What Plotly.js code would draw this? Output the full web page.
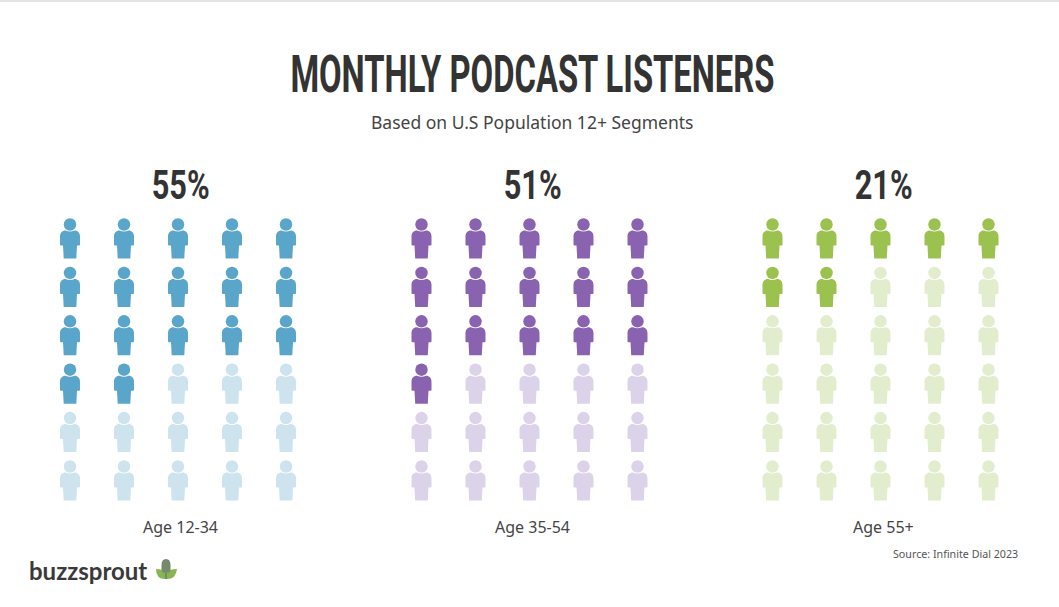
<!DOCTYPE html>
<html>
<head>
<meta charset="utf-8">
<script src="https://cdn.plot.ly/plotly-3.0.1.min.js"></script>
<style>
html, body { margin: 0; padding: 0; background: #fff; }
#chart { width: 1059px; height: 607px; }
</style>
</head>
<body>
<div id="chart"></div>
<script>
// values
var groups = ["Age 12-34", "Age 35-54", "Age 55+"];
var percents = [55, 51, 21];
var filledIcons = [17, 16, 7];
var iconColumns = [1, 2, 3, 4, 5];
var iconRows = [1, 2, 3, 4, 5, 6];
var fullColors = ["#5aa5ca", "#8a63b0", "#9bc14f"];
var paleColors = ["#cde3ee", "#dcd3ea", "#e2edcd"];

var W = 1059, H = 607;
var panelCenters = [178, 529.5, 880.5];
var colStep = 54, rowStep = 48.4, firstHead = 224.5;

// body outline in pixels relative to the head centre (y is up)
var bodyPath = "M-4.5,-6 Q0,-8 4.5,-6 C8,-6 10,-8.5 10,-12 L10,-20 Q10,-21 9,-21 L7,-21 L6.3,-34 L-6.3,-34 L-7,-21 L-9,-21 Q-10,-21 -10,-20 L-10,-12 C-10,-8.5 -8,-6 -4.5,-6 Z";

var headlineFont = "Roboto, 'Liberation Sans', sans-serif";

var traces = [];
var shapes = [];
var annotations = [];
var layout = {
    width: W,
    height: H,
    margin: {l: 0, r: 0, t: 0, b: 0},
    paper_bgcolor: "#ffffff",
    plot_bgcolor: "#ffffff",
    showlegend: false,
    hovermode: "closest",
    font: {family: "'Noto Sans', sans-serif", color: "#444444"}
};

groups.forEach(function (group, g) {
    var suffix = g === 0 ? "" : String(g + 1);
    var xName = "x" + suffix, yName = "y" + suffix;
    var left = panelCenters[g] - colStep * 2.5;
    var top = firstHead - rowStep * 0.5;

    layout["xaxis" + suffix] = {
        domain: [left / W, (left + colStep * 5) / W],
        range: [0.5, 5.5],
        visible: false,
        fixedrange: true,
        anchor: yName
    };
    layout["yaxis" + suffix] = {
        domain: [(H - (top + rowStep * 6.5)) / H, (H - top) / H],
        range: [7, 0.5],
        visible: false,
        fixedrange: true,
        anchor: xName
    };

    var fx = [], fy = [], px = [], py = [];
    iconRows.forEach(function (row, r) {
        iconColumns.forEach(function (col, c) {
            var isFull = r * iconColumns.length + c < filledIcons[g];
            (isFull ? fx : px).push(col);
            (isFull ? fy : py).push(row);
            shapes.push({
                type: "path",
                xref: xName, yref: yName,
                xsizemode: "pixel", ysizemode: "pixel",
                xanchor: col, yanchor: row,
                path: bodyPath,
                fillcolor: isFull ? fullColors[g] : paleColors[g],
                line: {width: 0},
                layer: "below"
            });
        });
    });

    [[fx, fy, fullColors[g]], [px, py, paleColors[g]]].forEach(function (s) {
        traces.push({
            type: "scatter",
            mode: "markers",
            x: s[0],
            y: s[1],
            xaxis: xName,
            yaxis: yName,
            name: group,
            hovertemplate: group + ": " + percents[g] + "%<extra></extra>",
            marker: {symbol: "circle", size: 12.5, color: s[2], line: {width: 0}}
        });
    });

    annotations.push({
        text: percents[g] + "%",
        xref: "paper", yref: "paper",
        x: (panelCenters[g] + 2.5) / W, y: 1 - 185 / H,
        xanchor: "center", yanchor: "middle",
        showarrow: false,
        font: {family: headlineFont, size: 40, color: "#333333", weight: 700}
    });
    annotations.push({
        text: group,
        xref: "paper", yref: "paper",
        x: (panelCenters[g] + 2.5) / W, y: 1 - 527 / H,
        xanchor: "center", yanchor: "middle",
        showarrow: false,
        font: {size: 16, color: "#444444"}
    });
});

annotations.push({
    text: "MONTHLY PODCAST LISTENERS",
    xref: "paper", yref: "paper", x: 532 / W, y: 1 - 74 / H,
    xanchor: "center", yanchor: "middle", showarrow: false,
    font: {family: headlineFont, size: 52, color: "#333333", weight: 700}
});
annotations.push({
    text: "Based on U.S Population 12+ Segments",
    xref: "paper", yref: "paper", x: 532 / W, y: 1 - 122 / H,
    xanchor: "center", yanchor: "middle", showarrow: false,
    font: {size: 17.5, color: "#444444"}
});
annotations.push({
    text: "Source: Infinite Dial 2023",
    xref: "paper", yref: "paper", x: 1020 / W, y: 1 - 554 / H,
    xanchor: "right", yanchor: "middle", showarrow: false,
    font: {size: 10.7, color: "#555555"}
});
annotations.push({
    text: "buzzsprout",
    xref: "paper", yref: "paper", x: 27 / W, y: 1 - 570 / H,
    xanchor: "left", yanchor: "middle", showarrow: false,
    font: {family: "Lato, sans-serif", size: 24, color: "#3a3a3a", weight: 700}
});

// strip along the top edge of the screenshot
shapes.push({
    type: "rect", xref: "paper", yref: "paper",
    x0: 0, x1: 1, y0: 1 - 2 / H, y1: 1,
    fillcolor: "#e4e4e4", line: {width: 0}, layer: "below"
});

// logo mark: mic and two leaves, pixels around its centre
function logoPart(path, color) {
    shapes.push({
        type: "path", xref: "paper", yref: "paper",
        xsizemode: "pixel", ysizemode: "pixel",
        xanchor: 166 / W, yanchor: 1 - 570 / H,
        path: path, fillcolor: color, line: {width: 0}
    });
}
logoPart("M-1,-9 Q-10,-9 -10,1 Q-3,1 -1,-3 Z", "#87b550");
logoPart("M1,-9 Q10,-9 11,1 Q3,1 1,-3 Z", "#87b550");
logoPart("M-4.5,5 Q-4.5,11 0,11 Q4.5,11 4.5,5 L4.5,0 Q4.5,-3 0,-3 Q-4.5,-3 -4.5,0 Z", "#75896c");
logoPart("M-1,-3 L1,-3 L1,-9 L-1,-9 Z", "#75896c");

layout.shapes = shapes;
layout.annotations = annotations;

// the reference headline face is condensed and none is installed, so squeeze the glyphs
var squeezedWidths = {"MONTHLY PODCAST LISTENERS": 484, "55%": 58, "51%": 58, "21%": 58};

Plotly.newPlot("chart", traces, layout, {displayModeBar: false, responsive: false}).then(function (gd) {
    gd.querySelectorAll(".annotation-text").forEach(function (el) {
        var w = squeezedWidths[el.textContent];
        if (w) {
            el.setAttribute("textLength", w);
            el.setAttribute("lengthAdjust", "spacingAndGlyphs");
        }
    });
});
</script>
</body>
</html>
